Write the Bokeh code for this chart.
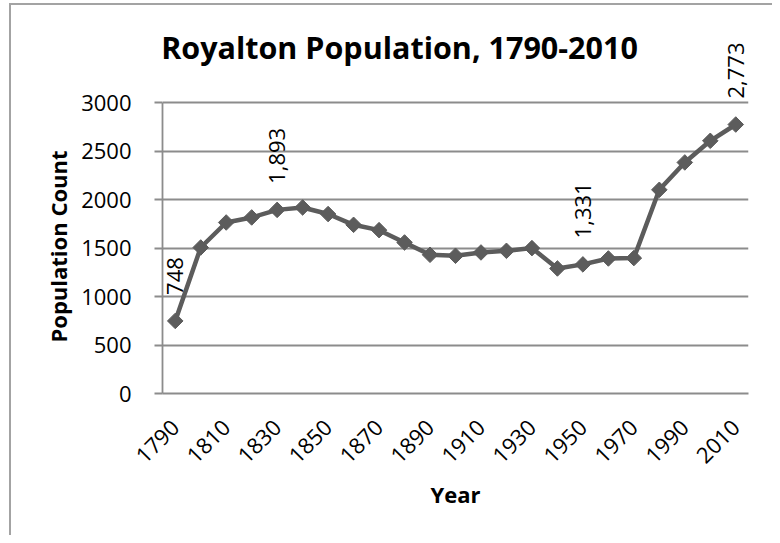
import math
from bokeh.plotting import figure
from bokeh.models import FixedTicker, Label, Range1d, ColumnDataSource, Title
from bokeh.embed import file_html
from bokeh.resources import INLINE

# ---- data ----
years = [1790, 1800, 1810, 1820, 1830, 1840, 1850, 1860, 1870, 1880, 1890, 1900,
         1910, 1920, 1930, 1940, 1950, 1960, 1970, 1980, 1990, 2000, 2010]
population = [748, 1505, 1763, 1815, 1893, 1918, 1850, 1739, 1684, 1557, 1430, 1420,
              1454, 1471, 1499, 1289, 1331, 1392, 1396, 2100, 2382, 2605, 2773]
x_tick_years = [1790, 1810, 1830, 1850, 1870, 1890, 1910, 1930, 1950, 1970, 1990, 2010]
y_ticks = [0, 500, 1000, 1500, 2000, 2500, 3000]
labeled_years = [1790, 1830, 1950, 2010]

title_text = "Royalton Population, 1790-2010"
x_title = "Year"
y_title = "Population Count"

FONT = "Open Sans"
GRID = "#8c8c8c"
SERIES = "#5c5c5c"
BORDER = "#a3a3a3"

# ---- layout (pixels) ----
W, H = 772, 535
frame_left, frame_right = 162, 748     # plot-area edges
axis_top_px, axis_bottom_px = 102, 393  # where 3000 and 0 sit
frame_top = 8                            # frame extended up so texts above 3000 are not clipped
y_max = y_ticks[-1]
y_end = y_max * (axis_bottom_px - frame_top) / (axis_bottom_px - axis_top_px)

p = figure(width=W, height=H, output_backend="svg", toolbar_location=None, title=None,
           x_range=Range1d(1785, 2015), y_range=Range1d(0, y_end),
           min_border_left=frame_left, min_border_right=W - frame_right,
           min_border_top=frame_top, min_border_bottom=H - axis_bottom_px)
p.outline_line_color = None
p.background_fill_color = None
p.border_fill_color = None
p.styles = {
    "background-color": "white",
    "background-image": f"linear-gradient({BORDER}, {BORDER}), linear-gradient({BORDER}, {BORDER})",
    "background-size": "2px 100%, 100% 2px",
    "background-position": "9px 3px, 9px 3px",
    "background-repeat": "no-repeat",
}

# chart title (inside the extended frame, screen units relative to frame)
p.add_layout(Label(x=399 - frame_left, y=axis_bottom_px - 46, x_units="screen", y_units="screen",
                   text=title_text, text_align="center", text_baseline="alphabetic",
                   text_font=FONT, text_font_size="30.5px", text_font_style="bold",
                   text_color="black"))

# y-axis title as a side title, placed along the 0..3000 span
p.add_layout(Title(text=y_title, align="left", offset=51, standoff=12,
                   text_font=FONT, text_font_size="22px", text_font_style="bold",
                   text_color="black"), "left")

# grid
p.xgrid.grid_line_color = None
p.ygrid.ticker = FixedTicker(ticks=y_ticks)
p.ygrid.grid_line_color = GRID
p.ygrid.grid_line_width = 1.8

# y axis
ya = p.yaxis[0]
ya.ticker = FixedTicker(ticks=y_ticks)
ya.bounds = (0, y_max)
ya.axis_line_color = GRID
ya.axis_line_width = 1.8
ya.major_tick_line_color = GRID
ya.major_tick_line_width = 1.8
ya.major_tick_out = 8
ya.major_tick_in = 0
ya.minor_tick_line_color = None
ya.major_label_standoff = 23
ya.major_label_text_font = FONT
ya.major_label_text_font_size = "22px"
ya.major_label_text_color = "black"

# x axis
xa = p.xaxis[0]
xa.ticker = FixedTicker(ticks=x_tick_years)
xa.axis_line_color = GRID
xa.axis_line_width = 1.8
xa.major_tick_line_color = None
xa.major_tick_out = 0
xa.major_tick_in = 0
xa.minor_tick_line_color = None
xa.major_label_orientation = math.pi / 4
xa.major_label_standoff = 30
xa.major_label_text_font = FONT
xa.major_label_text_font_size = "22px"
xa.major_label_text_color = "black"
xa.axis_label = x_title
xa.axis_label_text_font = FONT
xa.axis_label_text_font_size = "22px"
xa.axis_label_text_font_style = "bold"
xa.axis_label_text_color = "black"
xa.axis_label_standoff = 6

# series
src = ColumnDataSource(dict(x=years, y=population))
p.line("x", "y", source=src, line_width=4.5, line_color=SERIES)
p.scatter("x", "y", source=src, marker="square", angle=math.pi / 4, size=11,
          fill_color=SERIES, line_color=SERIES)

# data labels
for yr in labeled_years:
    v = population[years.index(yr)]
    p.add_layout(Label(x=yr, y=v, text=f"{v:,}", angle=math.pi / 2,
                       text_align="left", text_baseline="middle", y_offset=26,
                       text_font=FONT, text_font_size="22px", text_color="black"))

open("out.html", "w").write(file_html(p, INLINE))
